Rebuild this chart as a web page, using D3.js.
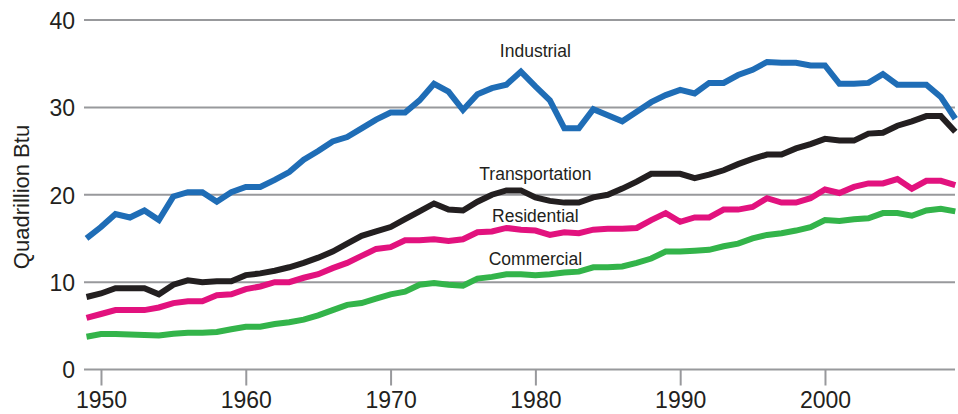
<!DOCTYPE html>
<html>
<head>
<meta charset="utf-8">
<script src="https://cdn.jsdelivr.net/npm/d3@7"></script>
<style>
  html, body { margin: 0; padding: 0; background: #ffffff; }
  svg { display: block; }
  text { font-family: "Liberation Sans", Arial, sans-serif; fill: #231f20; }
</style>
</head>
<body>
<svg id="chart" width="958" height="414"></svg>
<script>
// ---- Data (quadrillion Btu), 1949–2009 ----
const years = d3.range(1949, 2010);

const industrial = [
  15.0, 16.3, 17.8, 17.4, 18.2, 17.1, 19.8, 20.3, 20.3, 19.2,
  20.3, 20.9, 20.9, 21.7, 22.6, 24.0, 25.0, 26.1, 26.6, 27.6,
  28.6, 29.4, 29.4, 30.8, 32.7, 31.8, 29.7, 31.5, 32.2, 32.6,
  34.1, 32.4, 30.8, 27.6, 27.6, 29.8, 29.1, 28.4, 29.5, 30.6,
  31.4, 32.0, 31.6, 32.8, 32.8, 33.7, 34.3, 35.2, 35.1, 35.1,
  34.8, 34.8, 32.7, 32.7, 32.8, 33.8, 32.6, 32.6, 32.6, 31.2,
  28.7
];
const transportation = [
  8.3, 8.7, 9.3, 9.3, 9.3, 8.6, 9.7, 10.2, 10.0, 10.1,
  10.1, 10.8, 11.0, 11.3, 11.7, 12.2, 12.8, 13.5, 14.4, 15.3,
  15.8, 16.3, 17.2, 18.1, 19.0, 18.3, 18.2, 19.2, 20.0, 20.5,
  20.5, 19.7, 19.3, 19.1, 19.1, 19.7, 20.0, 20.7, 21.5, 22.4,
  22.4, 22.4, 21.9, 22.3, 22.8, 23.5, 24.1, 24.6, 24.6, 25.3,
  25.8, 26.4, 26.2, 26.2, 27.0, 27.1, 27.9, 28.4, 29.0, 29.0,
  27.2
];
const residential = [
  5.9, 6.35, 6.8, 6.8, 6.8, 7.1, 7.6, 7.8, 7.8, 8.5,
  8.6, 9.2, 9.5, 10.0, 10.0, 10.5, 10.9, 11.6, 12.2, 13.0,
  13.8, 14.0, 14.8, 14.8, 14.9, 14.7, 14.9, 15.7, 15.8, 16.2,
  16.0, 15.9, 15.4, 15.7, 15.6, 16.0, 16.1, 16.1, 16.2, 17.1,
  17.9, 16.9, 17.4, 17.4, 18.3, 18.3, 18.6, 19.6, 19.1, 19.1,
  19.6, 20.6, 20.2, 20.9, 21.3, 21.3, 21.8, 20.7, 21.6, 21.6,
  21.1
];
const commercial = [
  3.75, 4.05, 4.05, 4.0, 3.95, 3.9, 4.1, 4.2, 4.2, 4.3,
  4.6, 4.9, 4.9, 5.2, 5.4, 5.7, 6.2, 6.8, 7.4, 7.6,
  8.1, 8.6, 8.9, 9.7, 9.9, 9.7, 9.6, 10.4, 10.6, 10.9,
  10.9, 10.8, 10.9, 11.1, 11.2, 11.7, 11.7, 11.8, 12.2, 12.7,
  13.5, 13.5, 13.6, 13.7, 14.1, 14.4, 15.0, 15.4, 15.6, 15.9,
  16.3, 17.1, 17.0, 17.2, 17.3, 17.9, 17.9, 17.6, 18.2, 18.4,
  18.1
];

const seriesNames = ["Commercial", "Residential", "Transportation", "Industrial"];
const seriesValues = [commercial, residential, transportation, industrial];
const seriesColors = ["#33b44a", "#e2127e", "#231f20", "#1f6db6"];

const yTicks = [0, 10, 20, 30, 40];
const xTicks = [1950, 1960, 1970, 1980, 1990, 2000];
const yTitle = "Quadrillion Btu";

// Label placement (year, value) for the in-chart series labels
const labelYears = [1980, 1980, 1980, 1980];
const labelValues = [12.0, 16.9, 21.7, 35.8];

// ---- Chart ----
const svg = d3.select("#chart");
const x = d3.scaleLinear().domain([1949, 2009]).range([86.5, 955.3]);
const y = d3.scaleLinear().domain([0, 40]).range([369.5, 20]);

// gridlines
svg.append("g")
  .selectAll("line")
  .data(yTicks)
  .join("line")
  .attr("x1", 84).attr("x2", 955)
  .attr("y1", d => y(d)).attr("y2", d => y(d))
  .attr("stroke", "#98999c")
  .attr("stroke-width", 2);

// y axis labels
const yAxis = d3.axisLeft(y).tickValues(yTicks).tickSize(0).tickPadding(0);
const yg = svg.append("g").attr("transform", "translate(75,0)").call(yAxis);
yg.select(".domain").remove();
yg.selectAll("text")
  .attr("font-size", 23)
  .attr("dy", "0.36em")
  .style("font-family", "'Liberation Sans', Arial, sans-serif")
  .attr("fill", "#231f20");

// x axis ticks and labels
const xAxis = d3.axisBottom(x).tickValues(xTicks).tickFormat(d3.format("d")).tickSize(16).tickPadding(6);
const xg = svg.append("g").attr("transform", `translate(0,${y(0)})`).call(xAxis);
xg.select(".domain").remove();
xg.selectAll(".tick line").attr("stroke", "#98999c").attr("stroke-width", 2);
xg.selectAll("text")
  .attr("font-size", 23)
  .attr("dy", "0.71em")
  .style("font-family", "'Liberation Sans', Arial, sans-serif")
  .attr("fill", "#231f20");

// y title
svg.append("text")
  .attr("transform", "translate(29,197) rotate(-90)")
  .attr("text-anchor", "middle")
  .attr("font-size", 22)
  .text(yTitle);

// lines
const line = d3.line()
  .x((d, i) => x(years[i]))
  .y(d => y(d))
  .curve(d3.curveLinear);

svg.append("g")
  .selectAll("path")
  .data(seriesValues)
  .join("path")
  .attr("d", d => line(d))
  .attr("fill", "none")
  .attr("stroke", (d, i) => seriesColors[i])
  .attr("stroke-width", 6)
  .attr("stroke-linejoin", "miter")
  .attr("stroke-miterlimit", 3);

// series labels
svg.append("g")
  .selectAll("text")
  .data(seriesNames)
  .join("text")
  .attr("x", (d, i) => x(labelYears[i]))
  .attr("y", (d, i) => y(labelValues[i]))
  .attr("text-anchor", "middle")
  .attr("font-size", 17.5)
  .text(d => d);
</script>
</body>
</html>
